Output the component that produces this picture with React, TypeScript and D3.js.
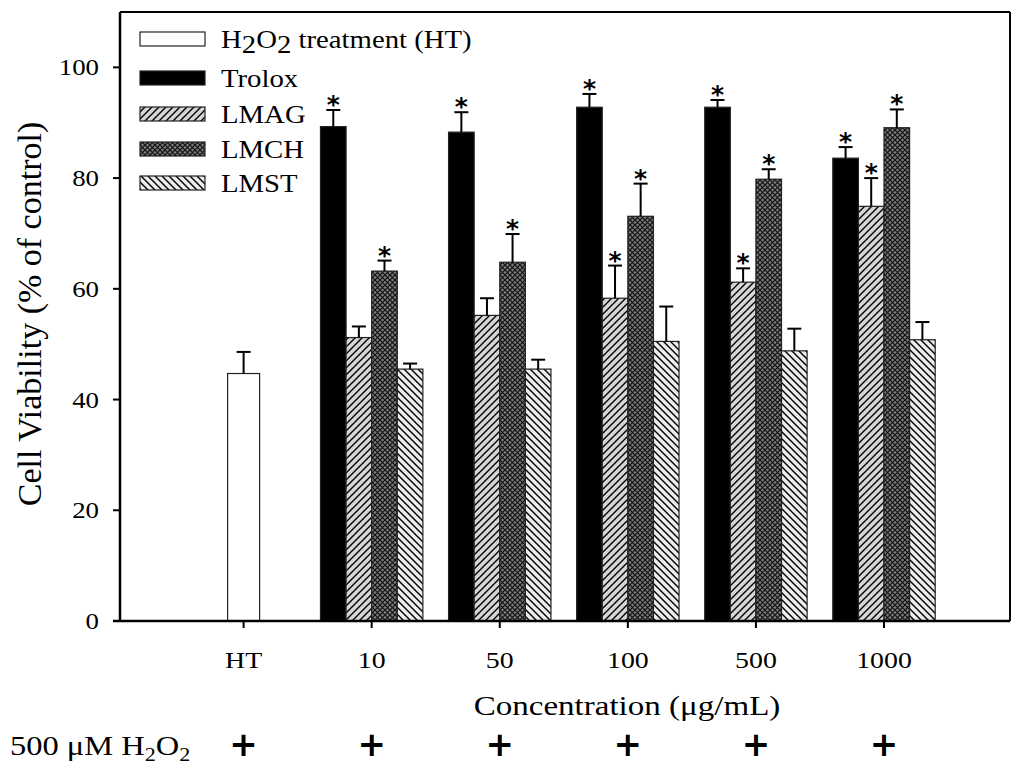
import * as d3 from "d3"
import type { ReactNode } from "react"

const categories = ["HT", "10", "50", "100", "500", "1000"]
const htValue = 44.7
const htError = 3.9

const seriesNames = ["Trolox", "LMAG", "LMCH", "LMST"]
const trolox = [89.3, 88.3, 92.8, 92.8, 83.6]
const troloxErr = [3.0, 3.6, 2.4, 1.3, 2.0]
const lmag = [51.2, 55.2, 58.3, 61.2, 74.9]
const lmagErr = [2.0, 3.1, 5.9, 2.5, 5.1]
const lmch = [63.2, 64.8, 73.1, 79.8, 89.1]
const lmchErr = [1.9, 5.1, 5.9, 1.8, 3.3]
const lmst = [45.5, 45.5, 50.5, 48.8, 50.8]
const lmstErr = [1.0, 1.7, 6.3, 4.0, 3.2]
const troloxStar = [true, true, true, true, true]
const lmagStar = [false, false, true, true, true]
const lmchStar = [true, true, true, true, true]
const lmstStar = [false, false, false, false, false]

const yTicks = [0, 20, 40, 60, 80, 100]

const W = 1024
const H = 779
const left = 120
const right = 1010
const top = 12
const bottom = 621

const serif = "'Liberation Serif', 'Times New Roman', serif"

// text drawn a bit wider than the font, the way the original figure was scaled
function SText(props: { x: number; y: number; size: number; sx?: number; anchor?: string; children: ReactNode }) {
  const { x, y, size, sx = 1.15, anchor = "start", children } = props
  return (
    <text transform={`translate(${x},${y}) scale(${sx},1)`} textAnchor={anchor} fontFamily={serif} fontSize={size}>
      {children}
    </text>
  )
}

export default function App() {
  const y = d3.scaleLinear().domain([0, 110]).range([bottom, top])
  const x = d3.scaleLinear().domain([0, 5]).range([243.6, 884])
  const inner = d3.scaleBand<string>().domain(seriesNames).range([-51.2, 51.2]).padding(0)
  const bw = inner.bandwidth()

  const data = [
    { name: "Trolox", vals: trolox, errs: troloxErr, stars: troloxStar, fill: "#000" },
    { name: "LMAG", vals: lmag, errs: lmagErr, stars: lmagStar, fill: "url(#pLMAG)" },
    { name: "LMCH", vals: lmch, errs: lmchErr, stars: lmchStar, fill: "url(#pLMCH)" },
    { name: "LMST", vals: lmst, errs: lmstErr, stars: lmstStar, fill: "url(#pLMST)" },
  ]

  const legend = [
    { key: "HT", fill: "#fff" },
    { key: "Trolox", fill: "#000" },
    { key: "LMAG", fill: "url(#pLMAG)" },
    { key: "LMCH", fill: "url(#pLMCH)" },
    { key: "LMST", fill: "url(#pLMST)" },
  ]
  const legendY = [39, 78, 114, 149, 183]

  const errBar = (cx: number, v: number, e: number, key: string) => (
    <g key={key} stroke="#000" strokeWidth={2}>
      <line x1={cx} x2={cx} y1={y(v)} y2={y(v + e)} />
      <line x1={cx - 7} x2={cx + 7} y1={y(v + e)} y2={y(v + e)} />
    </g>
  )

  return (
    <svg width={W} height={H} style={{ position: "absolute", left: 0, top: 0, background: "#fff" }}>
      <defs>
        <pattern id="pLMAG" width={7} height={7} patternUnits="userSpaceOnUse">
          <rect width={7} height={7} fill="#d6d6d6" />
          <path d="M-1,8 L8,-1 M-1,1 L1,-1 M6,8 L8,6" stroke="#000" strokeWidth={1.4} />
        </pattern>
        <pattern id="pLMCH" width={5} height={5} patternUnits="userSpaceOnUse">
          <rect width={5} height={5} fill="#7a7a7a" />
          <path d="M0,0 L5,5 M5,0 L0,5" stroke="#111" strokeWidth={1.2} />
        </pattern>
        <pattern id="pLMST" width={7} height={7} patternUnits="userSpaceOnUse">
          <rect width={7} height={7} fill="#ececec" />
          <path d="M-1,-1 L8,8 M6,-1 L8,1 M-1,6 L1,8" stroke="#000" strokeWidth={1.4} />
        </pattern>
      </defs>

      {/* HT bar */}
      <rect x={x(0) - 16} y={y(htValue)} width={32} height={y(0) - y(htValue)} fill="#fff" stroke="#222" strokeWidth={1.2} />
      {errBar(x(0), htValue, htError, "ht-err")}

      {/* grouped bars */}
      {data.map(s =>
        s.vals.map((v, i) => {
          const cx = x(i + 1) + (inner(s.name) ?? 0)
          const mid = cx + bw / 2
          const capY = y(v + s.errs[i])
          return (
            <g key={s.name + i}>
              <rect x={cx} y={y(v)} width={bw} height={y(0) - y(v)} fill={s.fill} stroke="#222" strokeWidth={1.2} />
              {errBar(mid, v, s.errs[i], "e")}
              {s.stars[i] && (
                <text x={mid} y={capY + 3} textAnchor="middle" fontFamily="'DejaVu Sans', sans-serif" fontWeight="bold" fontSize={25}>*</text>
              )}
            </g>
          )
        })
      )}

      {/* frame */}
      <line x1={left} x2={right} y1={top} y2={top} stroke="#000" strokeWidth={2} />
      <line x1={right} x2={right} y1={top} y2={bottom} stroke="#000" strokeWidth={2} />
      <line x1={left} x2={left} y1={top} y2={bottom} stroke="#000" strokeWidth={2.5} />
      <line x1={left - 7} x2={right} y1={bottom} y2={bottom} stroke="#000" strokeWidth={2.5} />

      {/* y axis */}
      {yTicks.map(t => (
        <g key={t}>
          <line x1={left - 7} x2={left} y1={y(t)} y2={y(t)} stroke="#000" strokeWidth={2} />
          <SText x={99} y={y(t) + 8} size={24} sx={1.12} anchor="end">{t}</SText>
        </g>
      ))}
      <text transform={`translate(41,${314}) rotate(-90)`} textAnchor="middle" fontFamily={serif} fontSize={34}>
        Cell Viability (% of control)
      </text>

      {/* x axis */}
      {categories.map((c, i) => (
        <g key={c}>
          <line x1={x(i)} x2={x(i)} y1={bottom} y2={bottom + 7} stroke="#000" strokeWidth={2} />
          <SText x={x(i)} y={668} size={24} sx={1.16} anchor="middle">{c}</SText>
          <text x={x(i)} y={756} textAnchor="middle" fontFamily="'DejaVu Sans', sans-serif" fontWeight="bold" fontSize={34}>+</text>
        </g>
      ))}
      <SText x={627} y={715} size={28} sx={1.18} anchor="middle">Concentration (μg/mL)</SText>
      <SText x={10} y={755} size={28} sx={1.16}>
        500 μM H<tspan fontSize={19} dy={6}>2</tspan><tspan dy={-6}>O</tspan><tspan fontSize={19} dy={6}>2</tspan>
      </SText>

      {/* legend */}
      {legend.map((l, i) => (
        <g key={l.key}>
          <rect x={140} y={legendY[i] - 7} width={65} height={14} fill={l.fill} stroke="#222" strokeWidth={1.2} />
          {l.key === "HT" ? (
            <SText x={221} y={legendY[i] + 9} size={25}>
              H<tspan dy={5}>2</tspan><tspan dy={-5}>O</tspan><tspan dy={5}>2</tspan><tspan dy={-5}> treatment (HT)</tspan>
            </SText>
          ) : (
            <SText x={221} y={legendY[i] + 9} size={25}>{l.key}</SText>
          )}
        </g>
      ))}
    </svg>
  )
}
